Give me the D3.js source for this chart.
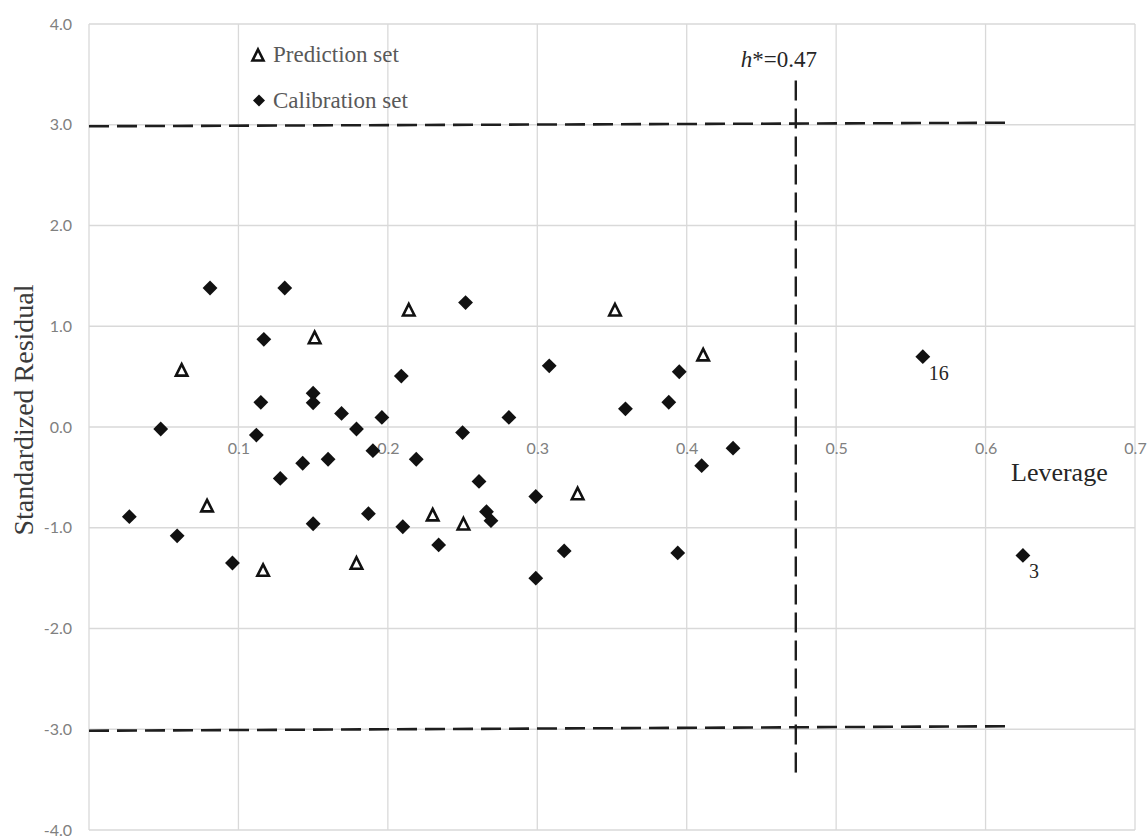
<!DOCTYPE html>
<html>
<head>
<meta charset="utf-8">
<script src="https://cdn.jsdelivr.net/npm/d3@7"></script>
<style>
  html, body { margin: 0; padding: 0; background: #ffffff; }
  svg { display: block; }
</style>
</head>
<body>
<svg id="chart" width="1147" height="837"></svg>
<script>
// Williams plot: standardized residual against leverage

// Calibration set (leverage, standardized residual)
const calibLeverage = [0.027, 0.048, 0.059, 0.081, 0.096, 0.112, 0.115, 0.117, 0.128, 0.131,
  0.143, 0.150, 0.150, 0.150, 0.160, 0.169, 0.179, 0.187, 0.190, 0.196,
  0.209, 0.210, 0.219, 0.234, 0.250, 0.252, 0.261, 0.266, 0.269, 0.281,
  0.299, 0.299, 0.308, 0.318, 0.359, 0.388, 0.395, 0.394, 0.410, 0.431,
  0.558, 0.625];
const calibResidual = [-0.89, -0.02, -1.08, 1.38, -1.35, -0.08, 0.245, 0.87, -0.51, 1.38,
  -0.36, -0.96, 0.335, 0.24, -0.32, 0.135, -0.02, -0.86, -0.235, 0.095,
  0.505, -0.99, -0.32, -1.17, -0.055, 1.235, -0.54, -0.84, -0.93, 0.095,
  -0.69, -1.50, 0.607, -1.23, 0.18, 0.246, 0.548, -1.25, -0.384, -0.21,
  0.698, -1.275];

// Prediction set (leverage, standardized residual)
const predLeverage = [0.062, 0.079, 0.1165, 0.151, 0.179, 0.214, 0.230, 0.2506, 0.327, 0.352, 0.411];
const predResidual = [0.567, -0.78, -1.42, 0.889, -1.35, 1.164, -0.87, -0.96, -0.66, 1.164, 0.718];

// Compounds flagged outside the applicability domain
const outlierIds = ["16", "3"];
const outlierLeverage = [0.558, 0.625];
const outlierResidual = [0.698, -1.275];

// Warning leverage and residual limits
const hStar = 0.473;
const residualLimitLeverage = [0, 0.615];
const upperLimit = [2.985, 3.02];
const lowerLimit = [-3.015, -2.97];
const hStarSpan = [-3.43, 3.45];

// Axes
const xDomain = [0, 0.7];
const yDomain = [-4, 4];
const xTicks = [0.1, 0.2, 0.3, 0.4, 0.5, 0.6, 0.7];
const xGrid = [0, 0.1, 0.2, 0.3, 0.4, 0.5, 0.6, 0.7];
const yTicks = [4, 3, 2, 1, 0, -1, -2, -3, -4];

const legendLabels = ["Prediction set", "Calibration set"];
const xTitle = "Leverage";
const yTitle = "Standardized Residual";

const svg = d3.select("#chart");
const x = d3.scaleLinear().domain(xDomain).range([89, 1135]);
const y = d3.scaleLinear().domain(yDomain).range([830, 24]);

const serif = "'Liberation Serif', 'Times New Roman', serif";
const sans = "Lato, 'Open Sans', sans-serif";
const gridColor = "#d9d9d9";
// one decimal, plain hyphen for negatives
const fmt1 = d => d3.format(".1f")(d).replace("\u2212", "-");

// Gridlines
const grid = svg.append("g");
grid.selectAll("line.v").data(xGrid).join("line")
  .attr("class", "v")
  .attr("x1", d => x(d)).attr("x2", d => x(d))
  .attr("y1", y(yDomain[1])).attr("y2", y(yDomain[0]))
  .attr("stroke", gridColor).attr("stroke-width", 1.3);
grid.selectAll("line.h").data(yTicks).join("line")
  .attr("class", "h")
  .attr("x1", x(xDomain[0])).attr("x2", x(xDomain[1]))
  .attr("y1", d => y(d)).attr("y2", d => y(d))
  .attr("stroke", gridColor).attr("stroke-width", 1.3);

// Y axis labels
const yAxis = svg.append("g")
  .attr("transform", `translate(${x(0)},0)`)
  .call(d3.axisLeft(y).tickValues(yTicks).tickSize(0).tickPadding(17).tickFormat(fmt1));
yAxis.select(".domain").remove();
yAxis.selectAll("text")
  .attr("font-family", sans).attr("font-size", 16).attr("fill", "#808080");

// X axis labels, crossing at residual 0
const xAxis = svg.append("g")
  .attr("transform", `translate(0,${y(0)})`)
  .call(d3.axisBottom(x).tickValues(xTicks).tickSize(0).tickPadding(16).tickFormat(fmt1));
xAxis.select(".domain").remove();
xAxis.selectAll("text")
  .attr("font-family", sans).attr("font-size", 16).attr("fill", "#808080");

// Limit lines
const dashStyle = sel => sel.attr("stroke", "#1e1e1e").attr("stroke-width", 2.6)
  .attr("stroke-dasharray", "20,8").attr("fill", "none");
const line = d3.line().x(d => x(d[0])).y(d => y(d[1]));
svg.append("path")
  .attr("d", line(d3.zip(residualLimitLeverage, upperLimit)))
  .call(dashStyle);
svg.append("path")
  .attr("d", line(d3.zip(residualLimitLeverage, lowerLimit)))
  .call(dashStyle);
svg.append("path")
  .attr("d", line(hStarSpan.map(r => [hStar, r])))
  .call(dashStyle).attr("stroke-width", 2.4);

// h* label
const hLabel = svg.append("text")
  .attr("x", x(hStar) - 55).attr("y", 67)
  .attr("font-family", serif).attr("font-size", 23).attr("fill", "#262626");
hLabel.append("tspan").attr("font-style", "italic").text("h");
hLabel.append("tspan").text("*=" + d3.format(".2f")(hStar));

// Marker shapes
const diamond = d3.symbol(d3.symbolSquare, 110);
const triangleType = {
  draw(context, size) {
    const w = Math.sqrt(size) * 1.05, h = w;
    context.moveTo(0, -h / 2);
    context.lineTo(w / 2, h / 2);
    context.lineTo(-w / 2, h / 2);
    context.closePath();
  }
};
const triangle = d3.symbol(triangleType, 120);

// Calibration points
const calib = d3.zip(calibLeverage, calibResidual);
svg.append("g").selectAll("path").data(calib).join("path")
  .attr("d", diamond)
  .attr("transform", d => `translate(${x(d[0])},${y(d[1])}) rotate(45)`)
  .attr("fill", "#111");

// Prediction points
const pred = d3.zip(predLeverage, predResidual);
svg.append("g").selectAll("path").data(pred).join("path")
  .attr("d", triangle)
  .attr("transform", d => `translate(${x(d[0])},${y(d[1])})`)
  .attr("fill", "#fff").attr("stroke", "#111").attr("stroke-width", 2.6)
  .attr("stroke-linejoin", "miter");

// Outlier labels
svg.append("g").selectAll("text").data(d3.zip(outlierIds, outlierLeverage, outlierResidual)).join("text")
  .attr("x", d => x(d[1]) + 6).attr("y", d => y(d[2]) + 23)
  .attr("font-family", serif).attr("font-size", 20).attr("fill", "#262626")
  .text(d => d[0]);

// Legend
const legend = svg.append("g");
legend.append("path").attr("d", d3.symbol(triangleType, 110))
  .attr("transform", "translate(258,55)")
  .attr("fill", "#fff").attr("stroke", "#111").attr("stroke-width", 2.6);
legend.append("path").attr("d", d3.symbol(d3.symbolSquare, 72))
  .attr("transform", "translate(259,100.5) rotate(45)")
  .attr("fill", "#111");
legend.selectAll("text").data(legendLabels).join("text")
  .attr("x", 273).attr("y", (d, i) => 62 + i * 46)
  .attr("font-family", serif).attr("font-size", 23).attr("fill", "#595959")
  .text(d => d);

// Axis titles
svg.append("text")
  .attr("x", 1011).attr("y", 481)
  .attr("font-family", serif).attr("font-size", 26).attr("fill", "#262626")
  .text(xTitle);
svg.append("text")
  .attr("transform", `translate(33,${(y(yDomain[0]) + y(yDomain[1])) / 2 - 17}) rotate(-90)`)
  .attr("text-anchor", "middle")
  .attr("font-family", serif).attr("font-size", 28).attr("fill", "#3a3a3a")
  .text(yTitle);
</script>
</body>
</html>
